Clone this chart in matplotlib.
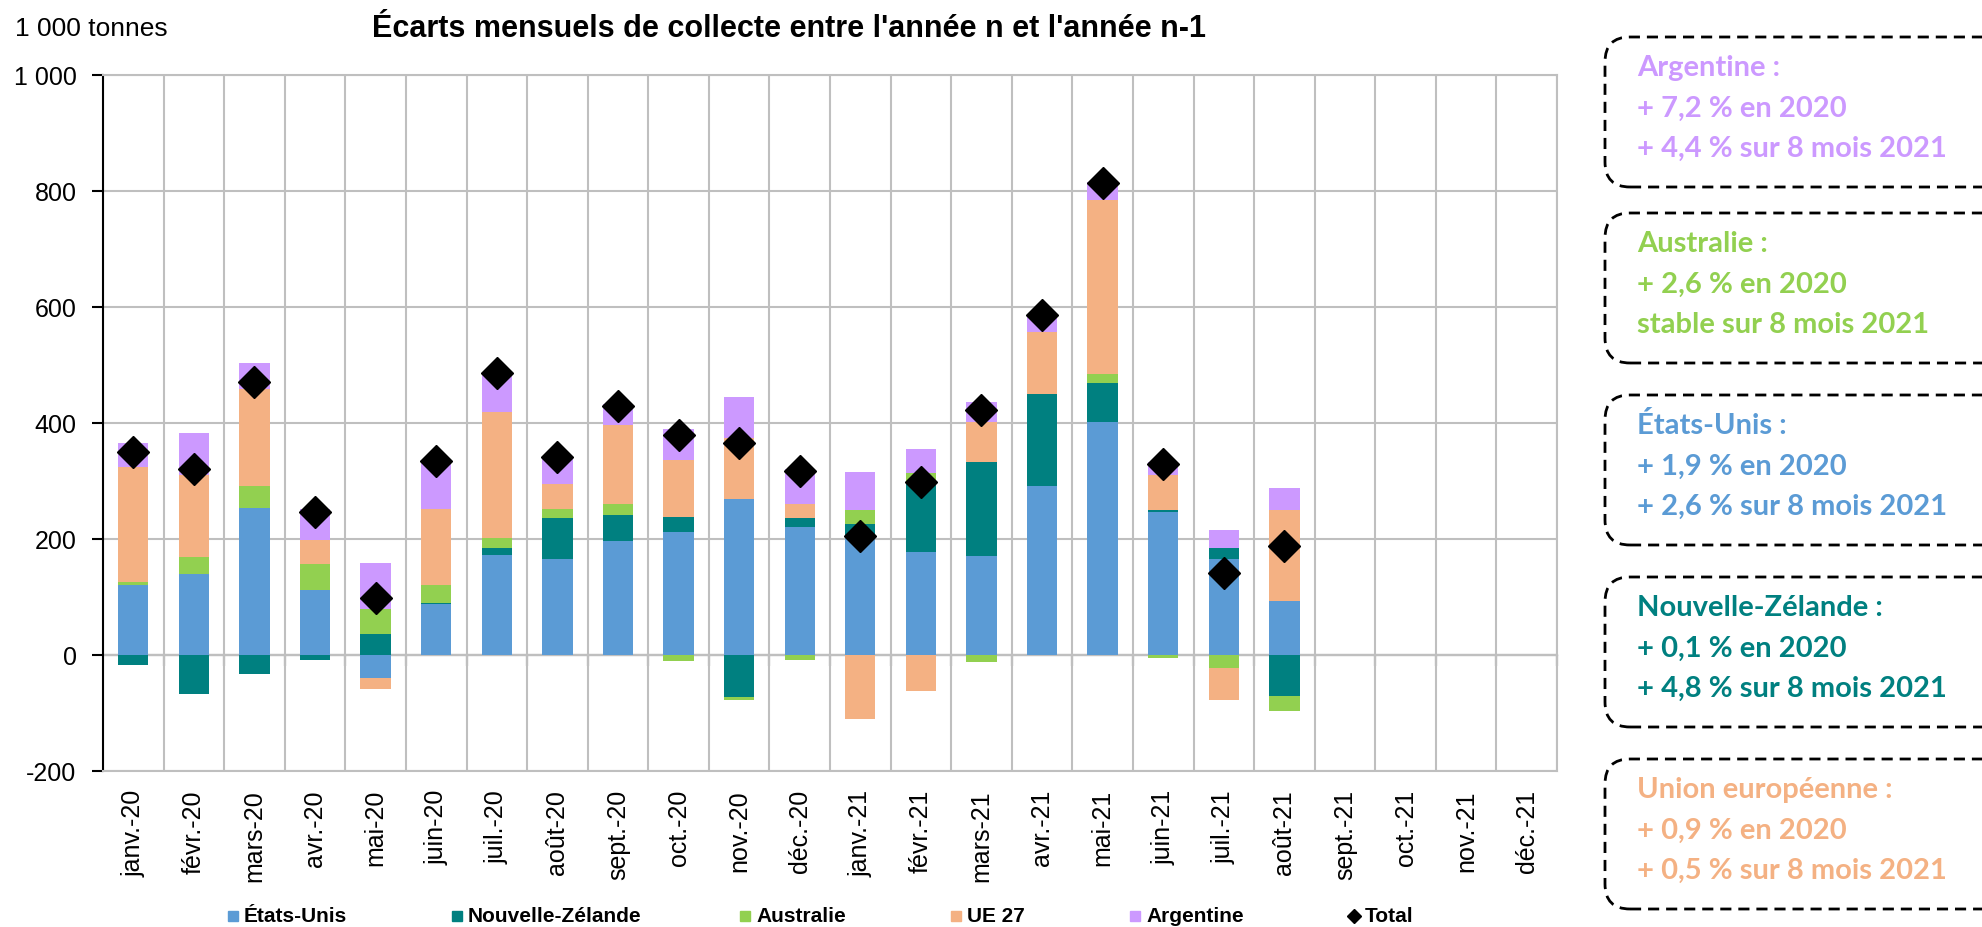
import numpy as np
import matplotlib
matplotlib.use("Agg")
import matplotlib.pyplot as plt
from matplotlib.patches import FancyBboxPatch, Rectangle
from matplotlib.lines import Line2D

plt.rcParams['font.family'] = ['Liberation Sans', 'DejaVu Sans']

months = ["janv.-20", "févr.-20", "mars-20", "avr.-20", "mai-20", "juin-20",
          "juil.-20", "août-20", "sept.-20", "oct.-20", "nov.-20", "déc.-20",
          "janv.-21", "févr.-21", "mars-21", "avr.-21", "mai-21", "juin-21",
          "juil.-21", "août-21", "sept.-21", "oct.-21", "nov.-21", "déc.-21"]

series_names = ["États-Unis", "Nouvelle-Zélande", "Australie", "UE 27", "Argentine"]
series_colors = ["#5B9BD5", "#008080", "#92D050", "#F4B183", "#CC99FF"]

etats_unis = [120, 139, 253, 112, -39, 88, 173, 166, 196, 212, 269, 220,
              205, 178, 170, 291, 401, 246, 166, 93]
nouvelle_zelande = [-17, -67, -32, -9, 36, 1.5, 11, 71, 45, 26, -73, 17,
                    21, 116, 162, 159, 68, 4, 18, -70]
australie = [6, 30, 38, 45, 43, 31, 18, 15, 19, -9.5, -4, -9,
             24, 20, -12, 0, 15, -5, -23, -26]
ue27 = [199, 142, 167, 42, -19, 132, 217, 43, 137, 99, 106, 23,
        -111, -62, 69, 107, 301, 61, -54, 157]
argentine = [41, 72, 46, 53, 79, 84, 65, 45, 36, 52, 69, 61,
             65, 42, 35, 27, 30, 22, 31, 38]
total = [350, 320, 471, 247, 99, 334, 486, 342, 430, 380, 366, 317,
         206, 299, 423, 586, 814, 330, 142, 188]

yticks = [-200, 0, 200, 400, 600, 800, 1000]
ytick_labels = ["-200", "0", "200", "400", "600", "800", "1 000"]

boxes = [
    ("Argentine :", "+ 7,2 % en 2020", "+ 4,4 % sur 8 mois 2021", "#CC99FF"),
    ("Australie :", "+ 2,6 % en 2020", "stable sur 8 mois 2021", "#92D050"),
    ("États-Unis :", "+ 1,9 % en 2020", "+ 2,6 % sur 8 mois 2021", "#5B9BD5"),
    ("Nouvelle-Zélande :", "+ 0,1 % en 2020", "+ 4,8 % sur 8 mois 2021", "#008080"),
    ("Union européenne :", "+ 0,9 % en 2020", "+ 0,5 % sur 8 mois 2021", "#F4B183"),
]

W, H = 1982, 928
fig = plt.figure(figsize=(W / 100, H / 100), dpi=100)
ax = fig.add_axes([103 / W, 1 - 772 / H, (1557 - 103) / W, (772 - 76) / H])

grid_c = "#BFBFBF"
n = len(months)
x = np.arange(len(total))
data = [etats_unis, nouvelle_zelande, australie, ue27, argentine]
pos_base = np.zeros(len(x))
neg_base = np.zeros(len(x))
for vals, name, col in zip(data, series_names, series_colors):
    v = np.array(vals, dtype=float)
    base = np.where(v >= 0, pos_base, neg_base)
    ax.bar(x, v, 0.5, bottom=base, color=col, edgecolor='none', zorder=3, label=name)
    pos_base = pos_base + np.where(v >= 0, v, 0)
    neg_base = neg_base + np.where(v < 0, v, 0)

ax.plot(x, total, linestyle='none', marker='D', color='black', markersize=16, zorder=5)

ax.set_xlim(-0.5, n - 0.5)
ax.set_ylim(-200, 1000)
ax.set_yticks(yticks)
ax.set_yticklabels(ytick_labels, fontsize=18)
ax.set_xticks(np.arange(n))
ax.set_xticklabels(months, rotation=90, fontsize=18, va='top', ha='center')
ax.set_xticks(np.arange(-0.5, n, 1), minor=True)
ax.tick_params(axis='x', which='both', length=0, pad=13)
ax.tick_params(axis='y', which='major', length=8, width=1.5, pad=11, direction='out')
ax.grid(True, axis='y', which='major', color=grid_c, linewidth=1.5, zorder=0)
ax.grid(True, axis='x', which='minor', color=grid_c, linewidth=1.5, zorder=0)
ax.set_axisbelow(True)
for s in ['top', 'right', 'bottom']:
    ax.spines[s].set_color(grid_c)
    ax.spines[s].set_linewidth(1.5)
ax.spines['left'].set_color('black')
ax.spines['left'].set_linewidth(1.5)

zero_frac = (0 - (-200)) / 1200
sec = ax.secondary_xaxis(zero_frac)
sec.set_xticks(np.arange(0.5, n, 1))
sec.set_xticklabels([])
sec.tick_params(direction='out', length=8, width=1.5, color='black')
sec.spines['bottom'].set_color('black')
sec.spines['bottom'].set_linewidth(1.5)
sec.spines['bottom'].set_zorder(4)

fig.text(15 / W, 1 - 29 / H, "1 000 tonnes", fontsize=19, va='center', ha='left')
fig.text(789 / W, 1 - 29 / H, "Écarts mensuels de collecte entre l'année n et l'année n-1",
         fontsize=22, fontweight='bold', va='center', ha='center')

# legend (manual layout)
leg_x = [229, 453, 741, 952, 1131, 1350]
leg_y = 1 - 917 / H
for lx, name, col in zip(leg_x, series_names + ["Total"], series_colors + ["black"]):
    if name == "Total":
        fig.add_artist(Line2D([(lx + 4) / W], [leg_y], marker='D', color='black',
                              markersize=7, linestyle='none', transform=fig.transFigure))
    else:
        fig.add_artist(Rectangle(((lx - 1) / W, leg_y - 5 / H), 10 / W, 10 / H,
                                 color=col, transform=fig.transFigure))
    fig.text((lx + 15) / W, leg_y, name, fontsize=15, fontweight='bold',
             va='center', ha='left')

# right boxes
box_tops = [38, 214, 396, 578, 760]
box_h = 150
for top, (l1, l2, l3, col) in zip(box_tops, boxes):
    bottom_in = (H - top - box_h) / 100
    patch = FancyBboxPatch((16.05, bottom_in), 4.2, box_h / 100,
                           boxstyle="round,pad=0,rounding_size=0.25",
                           transform=fig.dpi_scale_trans, facecolor='none',
                           edgecolor='black', linewidth=2, linestyle=(0, (4, 2.5)))
    fig.add_artist(patch)
    for k, line in enumerate([l1, l2, l3]):
        fig.text(1637 / W, 1 - (top + 30 + 40.5 * k) / H, line, fontsize=21,
                 fontweight='bold', color=col, va='center', ha='left',
                 family=['Lato', 'DejaVu Sans'])

fig.savefig("out.png", dpi=100)
